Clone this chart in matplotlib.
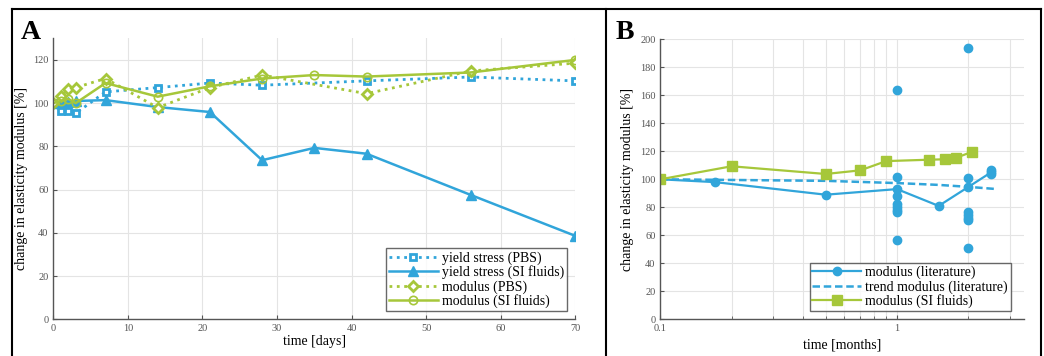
import matplotlib
matplotlib.use('Agg')
import matplotlib.pyplot as plt
from matplotlib.lines import Line2D
from matplotlib.ticker import NullFormatter, FixedLocator

plt.rcParams['font.family'] = ['Liberation Serif', 'DejaVu Serif']

# ---- panel A data (days) ----
days_yield_pbs = [0, 1, 2, 3, 7, 14, 21, 28, 42, 56, 70]
yield_pbs = [100, 96.3, 96.3, 95.3, 105.2, 107.2, 109.3, 108.3, 110.3, 112.1, 110.3]

days_yield_si = [0, 1, 2, 3, 7, 14, 21, 28, 35, 42, 56, 70]
yield_si = [100, 100, 100.5, 101, 101.4, 98.2, 95.9, 73.6, 79.3, 76.6, 57.5, 38.6]

days_mod_pbs = [0, 1, 2, 3, 7, 14, 21, 28, 42, 56, 70]
mod_pbs = [100, 103.3, 106.4, 107.2, 111.4, 97.9, 107.2, 113, 104.4, 114.9, 118.5]

days_mod_si = [0, 1, 2, 3, 7, 14, 21, 28, 35, 42, 56, 70]
mod_si = [100, 101, 102, 100, 109.3, 103, 107.8, 111.4, 113, 112.3, 114.2, 120]

# ---- panel B data (months) ----
lit_t = [0.1, 0.17, 0.5, 1, 1.5, 2, 2.5]
lit_mod = [100, 98, 89, 93, 81, 94.5, 105]
lit_scatter_t = [1, 1, 1, 1, 1, 1, 1, 1, 2, 2, 2, 2, 2, 2, 2, 2.5, 2.5]
lit_scatter = [164, 102, 88, 82.5, 80, 78, 76.6, 56.6, 194, 101, 76.5, 74.5, 72.5, 71, 51, 107, 104]
trend_t = [0.1, 0.5, 1, 1.5, 2, 2.65]
trend_mod = [100, 98.9, 97.3, 96, 94.6, 93]
si_t = [0.1, 0.2, 0.5, 0.7, 0.9, 1.37, 1.6, 1.78, 2.08]
si_mod = [100, 109.3, 103.8, 106.4, 113, 114, 114.3, 115.4, 119.7]

blue = '#31a5da'
green = '#a6c73a'
grid_c = '#e4e4e4'
spine_c = '#555555'

fig = plt.figure(figsize=(10.44, 3.56), dpi=100)

# panel frames
for xs, ys in [([12.3, 12.3], [356, 9.3]), ([12.3, 1041], [9.3, 9.3]),
               ([606, 606], [9.3, 356]), ([1041, 1041], [9.3, 356])]:
    fig.add_artist(Line2D([x / 1044 for x in xs], [1 - y / 356 for y in ys],
                          color='black', linewidth=1.5, transform=fig.transFigure))

def style_axes(ax):
    for s in ['top', 'right']:
        ax.spines[s].set_visible(False)
    for s in ['left', 'bottom']:
        ax.spines[s].set_color(spine_c)
        ax.spines[s].set_linewidth(1.0)
    ax.tick_params(direction='in', labelsize=7.5, colors=spine_c, labelcolor='#555555', length=3)
    ax.set_axisbelow(True)

# ---- panel A ----
axA = fig.add_axes([53.3 / 1044, 1 - 319.3 / 356, 522 / 1044, 281 / 356])
style_axes(axA)
axA.grid(True, color=grid_c, linewidth=0.8)
axA.plot(days_yield_pbs, yield_pbs, linestyle=':', color=blue, linewidth=2,
         marker='s', markersize=5, markerfacecolor='white', markeredgewidth=2,
         label='yield stress (PBS)')
axA.plot(days_yield_si, yield_si, linestyle='-', color=blue, linewidth=1.8,
         marker='^', markersize=7, label='yield stress (SI fluids)')
axA.plot(days_mod_pbs, mod_pbs, linestyle=':', color=green, linewidth=2,
         marker='D', markersize=5, markerfacecolor='white', markeredgewidth=2,
         label='modulus (PBS)')
axA.plot(days_mod_si, mod_si, linestyle='-', color=green, linewidth=1.8,
         marker='o', markersize=6, markerfacecolor='none', markeredgewidth=1.2,
         label='modulus (SI fluids)')
axA.set_xlim(0, 70)
axA.set_ylim(0, 130)
axA.set_xticks(range(0, 71, 10))
axA.set_yticks(range(0, 121, 20))
axA.set_xlabel('time [days]', fontsize=10, labelpad=1)
axA.set_ylabel('change in elasticity modulus [%]', fontsize=10, labelpad=4)
legA = axA.legend(loc='lower right', fontsize=10, frameon=True, fancybox=False,
                  edgecolor='#444444', borderpad=0.2, labelspacing=0.05,
                  handlelength=3.5, handletextpad=0.3, borderaxespad=0.6)
legA.get_frame().set_linewidth(1.0)
fig.text(21 / 1044, 1 - 39 / 356, 'A', fontsize=20, fontweight='bold')

# ---- panel B ----
axB = fig.add_axes([660.3 / 1044, 1 - 319.3 / 356, 364 / 1044, 280 / 356])
style_axes(axB)
axB.set_xscale('log')
axB.grid(True, which='both', axis='x', color=grid_c, linewidth=0.8)
axB.grid(True, which='major', axis='y', color=grid_c, linewidth=0.8)
axB.plot(lit_scatter_t, lit_scatter, linestyle='none', color=blue, marker='o', markersize=6)
axB.plot(lit_t, lit_mod, linestyle='-', color=blue, linewidth=1.6, marker='o',
         markersize=6, label='modulus (literature)')
axB.plot(trend_t, trend_mod, linestyle=(0, (3, 1.5)), color=blue, linewidth=1.8,
         label='trend modulus (literature)')
axB.plot(si_t, si_mod, linestyle='-', color=green, linewidth=1.6, marker='s',
         markersize=6.5, label='modulus (SI fluids)')
axB.set_xlim(0.1, 3.45)
axB.set_ylim(0, 200)
axB.xaxis.set_major_locator(FixedLocator([0.1, 1]))
axB.xaxis.set_major_formatter(matplotlib.ticker.FixedFormatter(['0.1', '1']))
axB.xaxis.set_minor_locator(FixedLocator([0.2, 0.3, 0.4, 0.5, 0.6, 0.7, 0.8, 0.9, 2, 3]))
axB.xaxis.set_minor_formatter(NullFormatter())
axB.tick_params(which='minor', direction='in', length=2, colors=spine_c)
axB.set_yticks(range(0, 201, 20))
axB.set_xlabel('time [months]', fontsize=10, labelpad=4)
axB.set_ylabel('change in elasticity modulus [%]', fontsize=10, labelpad=4)
legB = axB.legend(loc='lower right', fontsize=10, frameon=True, fancybox=False,
                  edgecolor='#444444', borderpad=0.2, labelspacing=0.05,
                  handlelength=3.5, handletextpad=0.3, borderaxespad=0.6,
                  bbox_to_anchor=(0.985, 0.0))
legB.get_frame().set_linewidth(1.0)
fig.text(616 / 1044, 1 - 39 / 356, 'B', fontsize=20, fontweight='bold')

fig.savefig('out.png', dpi=100)
